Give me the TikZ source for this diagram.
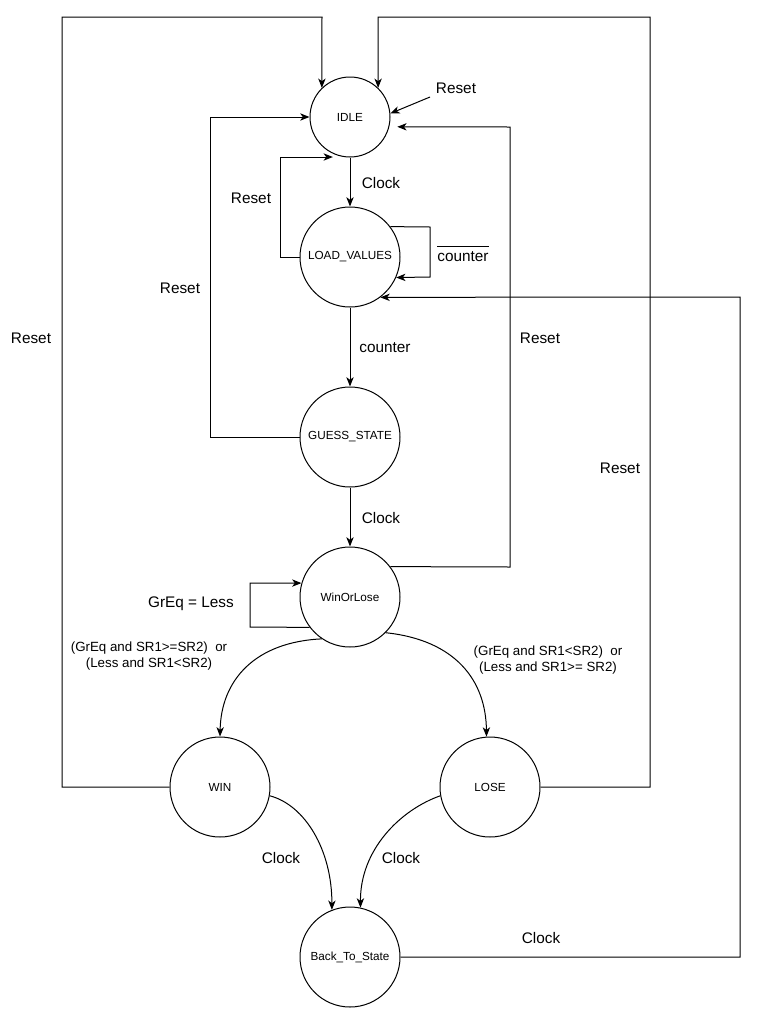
\documentclass[tikz,border=0pt]{standalone}
\usepackage{fontspec}
\setmainfont{Liberation Sans}
\usetikzlibrary{arrows.meta}
\tikzset{every path/.style={line width=0.75pt},
  state/.style={circle, draw, fill=white, minimum size=75pt, inner sep=0pt, font=\fontsize{8.8}{10}\selectfont},
  lbl/.style={font=\fontsize{11.5}{13}\selectfont, inner sep=0pt},
  cond/.style={font=\fontsize{10}{12}\selectfont, align=center, inner sep=0pt},
  arr/.style={-{Stealth[length=7pt,width=5.5pt,inset=2pt]}}}

\begin{document}
\begin{tikzpicture}[x=0.75pt,y=-0.75pt]
   \useasboundingbox (0,0) rectangle (770,1029);
   % states
   \node[state, minimum size=60pt] (idle) at (350,117) {IDLE};
   \node[state] (load)  at (350,257) {LOAD\_VALUES};
   \node[state] (guess) at (350,437) {GUESS\_STATE};
   \node[state] (wol)   at (350,597) {WinOrLose};
   \node[state] (win)   at (220,787) {WIN};
   \node[state] (lose)  at (490,787) {LOSE};
   \node[state] (back)  at (350,957) {Back\_To\_State};
   \coordinate (rst) at (430,97);
   \coordinate (lr)  at (280,157);

   % main line
   \draw[arr] (idle) -- (load);
   \draw[arr] (load) -- (guess);
   \draw[arr] (guess) -- (wol);
   \draw[arr] (rst) -- (idle.5);

   % resets
   \draw[arr] (win.west) -- (62,787) -- (62,17) -- (322,17) -- (idle.134);
   \draw[arr] (lose.east) -- (650,787) -- (650,17) -- (378,17) -- (idle.46);
   \draw[arr, shorten >=6pt] (wol.37) -- (510,567) -- (510,127) -- (idle.-14);
   \draw[arr] (guess.west) -- (210,437) -- (210,117) -- (idle.west);
   \draw[arr] (load.west) -- (280,257) -- (lr) -- (idle.-115 |- lr);

   % loops
   \draw[arr] (load.37) -- (430,227) -- (430,277) -- (load.-24);
   \draw[arr] (wol.217) -- (250,627) -- (250,583) -- (wol.164);
   \draw[arr] (back.east) -- (740,957) -- (740,297) -- (load.-53);

   % curved
   \draw[arr] (wol.236) .. controls (255,642) and (221,680) .. (win.north);
   \draw[arr] (wol.-45) .. controls (455,640) and (486,680) .. (lose.94);
   \draw[arr] (win.-10) .. controls (305,805) and (332,850) .. (back.111);
   \draw[arr] (lose.190) .. controls (400,810) and (360,850) .. (back.78);

   % labels
   \node[lbl] (t1)  at (456,88)  {Reset};
   \node[lbl] (t2)  at (381,183) {Clock};
   \node[lbl] (t3)  at (251,198) {Reset};
   \node[lbl] (t4)  at (463,254) {$\overline{\mbox{counter\rule{0pt}{10pt}}}$};
   \node[lbl] (t5)  at (180,288) {Reset};
   \node[lbl] (t6)  at (31,338)  {Reset};
   \node[lbl] (t7)  at (385,348) {counter};
   \node[lbl] (t8)  at (540,338) {Reset};
   \node[lbl] (t9)  at (620,468) {Reset};
   \node[lbl] (t10) at (381,518) {Clock};
   \node[lbl] (t11) at (191,604) {GrEq = Less};
   \node[cond] (t12) at (149,656) {(GrEq and SR1>=SR2)\ \ or\\(Less and SR1<SR2)};
   \node[cond] (t13) at (548,660) {(GrEq and SR1<SR2)\ \ or\\(Less and SR1>= SR2)};
   \node[lbl] (t14) at (281,858) {Clock};
   \node[lbl] (t15) at (401,858) {Clock};
   \node[lbl] (t16) at (541,938) {Clock};
\end{tikzpicture}
\end{document}
